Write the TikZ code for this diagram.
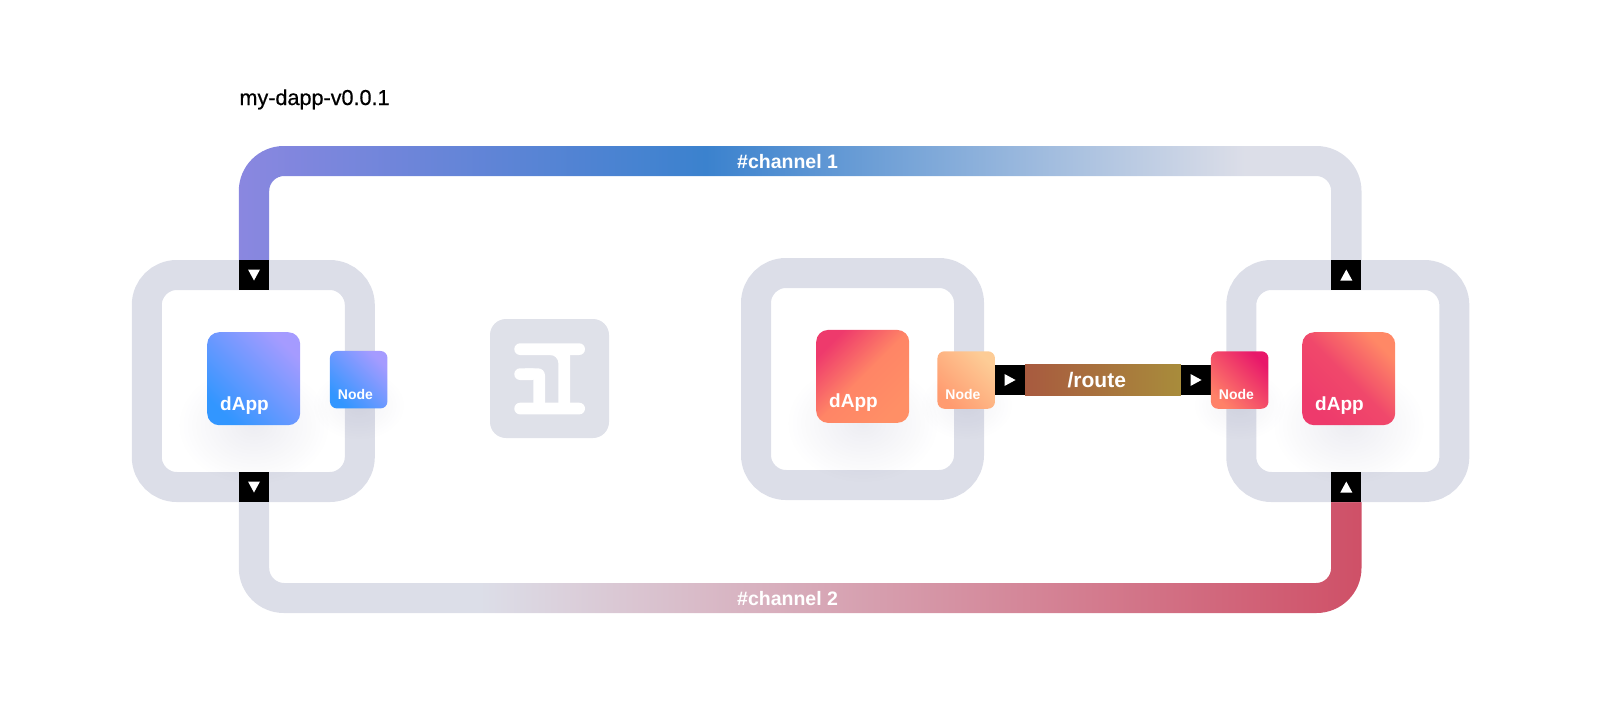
\documentclass[tikz,border=0pt]{standalone}
\usepackage{fontspec}
\setmainfont{Liberation Sans}
\newfontfamily\titlefont[FakeBold=0.7]{Liberation Sans}
\usetikzlibrary{positioning, calc, fadings, backgrounds}

\definecolor{frameGrey}{HTML}{DCDEE8}
\definecolor{tileGrey}{HTML}{DFE1E9}
\definecolor{chanBlue}{HTML}{3B82CE}
\definecolor{chanViolet}{HTML}{8A87E0}
\definecolor{chanRed}{HTML}{CF5067}
\definecolor{routeA}{HTML}{A85A3F}
\definecolor{routeB}{HTML}{A88C3B}
\definecolor{blueA}{HTML}{3296FF}
\definecolor{blueB}{HTML}{A59BFF}
\definecolor{pinkA}{HTML}{EE3A6C}
\definecolor{pinkB}{HTML}{FF8566}
\definecolor{pinkC}{HTML}{FF8F66}
\definecolor{peachA}{HTML}{FF9B70}
\definecolor{peachB}{HTML}{FDCC96}
\definecolor{roseA}{HTML}{EE3A6C}
\definecolor{roseB}{HTML}{F0486B}
\definecolor{roseC}{HTML}{FF8866}
\definecolor{coralA}{HTML}{FF8168}
\definecolor{coralB}{HTML}{E8186A}

\pgfdeclarehorizontalshading{channelOneFade}{100bp}{color(0bp)=(chanViolet); color(25bp)=(chanViolet); color(45.8bp)=(chanBlue); color(69.8bp)=(frameGrey); color(100bp)=(frameGrey)}
\pgfdeclarehorizontalshading{channelTwoFade}{100bp}{color(0bp)=(frameGrey); color(35.7bp)=(frameGrey); color(75bp)=(chanRed); color(100bp)=(chanRed)}
\tikzfading[name=softFade, inner color=transparent!0, outer color=transparent!100]

\begin{document}
\begin{tikzpicture}[
    x=1pt, y=-1pt,
    % --- styles ---
    frameBox/.style={
            draw=frameGrey,
            line width=30pt,
            rounded corners=30pt,
            minimum width=213pt,
            minimum height=212pt
        },
    dappBox/.style={
            rounded corners=12pt,
            minimum width=93pt,
            minimum height=93pt,
            inner sep=0pt
        },
    nodeBox/.style={
            rounded corners=7pt,
            minimum width=57.5pt,
            minimum height=57.5pt,
            inner sep=0pt
        },
    portBox/.style={
            fill=black,
            minimum width=30pt,
            minimum height=30pt,
            inner sep=0pt
        },
    portDown/.style={
            portBox,
            path picture={
                    \fill[white] (path picture bounding box.center) ++(-6,-5.5) -- ++(12,0) -- ++(-6,11) -- cycle;
                }
        },
    portUp/.style={
            portBox,
            path picture={
                    \fill[white] (path picture bounding box.center) ++(-6,5.5) -- ++(12,0) -- ++(-6,-11) -- cycle;
                }
        },
    portRight/.style={
            portBox,
            path picture={
                    \fill[white] (path picture bounding box.center) ++(-5.5,-6) -- ++(0,12) -- ++(11,-6) -- cycle;
                }
        },
    softShadow/.style={
            fill=black!70!blue,
            fill opacity=#1,
            path fading=softFade
        },
    dappText/.style={
            font=\bfseries\fontsize{19}{23}\selectfont,
            text=white,
            inner sep=0pt
        },
    nodeText/.style={
            font=\bfseries\fontsize{14}{17}\selectfont,
            text=white,
            inner sep=0pt
        },
    wireText/.style={
            font=\bfseries\fontsize{19.5}{23}\selectfont,
            text=white,
            inner sep=0pt
        },
    logoMark/.style={fill=white}
    ]
    \useasboundingbox (0,0) rectangle (1600,712);

    \node[font=\titlefont\fontsize{21.6}{25}\selectfont, anchor=base west, inner sep=0pt] (titleLabel) at (239.3,105) {my-dapp-v0.0.1};

    % 1. Frames
    \node[frameBox] (frameLeft) at (253.3,381) {};
    \node[frameBox] (frameMid) at (862.5,379) {};
    \node[frameBox] (frameRight) at (1347.8,381) {};

    % 2. Ports
    \node[portDown] (portTopLeft) at (254,275) {};
    \node[portDown] (portBotLeft) at (254,487) {};
    \node[portUp] (portTopRight) at (1346.3,275) {};
    \node[portUp] (portBotRight) at (1346.3,487) {};
    \node[portRight] (portRouteA) at (1010,380) {};
    \node[portRight] (portRouteB) at (1196,380) {};

    % 3. Channels and the route
    \coordinate (chanOneOut) at (800,146);
    \coordinate (chanOneIn) at (800,176);
    \coordinate (chanTwoOut) at (800,613);
    \coordinate (chanTwoIn) at (800,583);
    \begin{scope}[on background layer]
        \begin{scope}
            \clip (0,0) rectangle (frameRight.east |- portTopRight);
            \shade[shading=channelOneFade, even odd rule, rounded corners=45pt] (portTopLeft.west |- chanOneOut) rectangle (portTopRight.east |- chanTwoOut) [rounded corners=15pt] (portTopLeft.east |- chanOneIn) rectangle (portTopRight.west |- chanTwoIn);
        \end{scope}
        \begin{scope}
            \clip (frameLeft.west |- portBotLeft) rectangle (1600,712);
            \shade[shading=channelTwoFade, even odd rule, rounded corners=45pt] (portTopLeft.west |- chanOneOut) rectangle (portTopRight.east |- chanTwoOut) [rounded corners=15pt] (portTopLeft.east |- chanOneIn) rectangle (portTopRight.west |- chanTwoIn);
        \end{scope}
    \end{scope}
    \shade[left color=routeA, right color=routeB] (portRouteA.north east) rectangle (portRouteB.south west);
    \path (portRouteA) -- node[pos=0.46, wireText, font=\bfseries\fontsize{21}{25}\selectfont] (routeLabel) {/route} (portRouteB);

    \node[wireText, anchor=west] (chanOneLabel) at (737,162) {\#channel 1};
    \node[wireText, anchor=west] (chanTwoLabel) at (737,599) {\#channel 2};

    % 4. Logo
    \node[fill=tileGrey, rounded corners=16pt, minimum width=119pt, minimum height=119pt] (logoTile) at (549.5,378.5) {};
    \fill[logoMark, rounded corners=5.8pt] (514.3,343.3) rectangle (585,355);
    \fill[logoMark, rounded corners=5.8pt] (514.3,402.7) rectangle (585,414.4);
    \fill[logoMark, rounded corners=5.8pt] (514.3,368.3) rectangle (538,380);
    \fill[logoMark] (558.3,405) [rounded corners=8pt] -- (558.3,355) -- (545,355) [sharp corners] -- (545,350) -- (570,350) -- (570,405) -- cycle;
    \fill[logoMark] (533.3,405) -- (533.3,374) -- (525,374) -- (525,368.3) [rounded corners=7pt] -- (545,368.3) [sharp corners] -- (545,405) -- cycle;

    % 5. Shadows
    \fill[softShadow=0.07] (177,365) rectangle (330,485);
    \fill[softShadow=0.05] (312,370) rectangle (405,440);
    \fill[softShadow=0.07] (786,363) rectangle (939,483);
    \fill[softShadow=0.05] (920,370) rectangle (1013,440);
    \fill[softShadow=0.07] (1272,365) rectangle (1425,485);
    \fill[softShadow=0.05] (1193,370) rectangle (1286,440);

    % 6. dApps and their nodes
    \node[dappBox, left color=blueA, right color=blueB, shading angle=135] (dappLeft) at (253.7,378.7) {};
    \node[nodeBox, left color=blueA, right color=blueB, shading angle=135] (nodeLeft) at (358.7,379.7) {};
    \node[dappBox, left color=pinkA, right color=pinkC, middle color=pinkB, shading angle=45] (dappMid) at (862.7,376.4) {};
    \node[nodeBox, left color=peachA, right color=peachB, shading angle=135] (nodeMid) at (966.2,380) {};
    \node[dappBox, left color=roseA, right color=roseC, middle color=roseB, shading angle=135] (dappRight) at (1348.7,378.7) {};
    \node[nodeBox, left color=coralA, right color=coralB, shading angle=135] (nodeRight) at (1239.7,380) {};

    \node[dappText, above right=11pt and 13pt of dappLeft.south west] (dappLeftText) {dApp};
    \node[dappText, above right=11pt and 13pt of dappMid.south west] (dappMidText) {dApp};
    \node[dappText, above right=11pt and 13pt of dappRight.south west] (dappRightText) {dApp};
    \node[nodeText, above right=9pt and 8pt of nodeLeft.south west] (nodeLeftText) {Node};
    \node[nodeText, above right=9pt and 8pt of nodeMid.south west] (nodeMidText) {Node};
    \node[nodeText, above right=9pt and 8pt of nodeRight.south west] (nodeRightText) {Node};

\end{tikzpicture}
\end{document}
